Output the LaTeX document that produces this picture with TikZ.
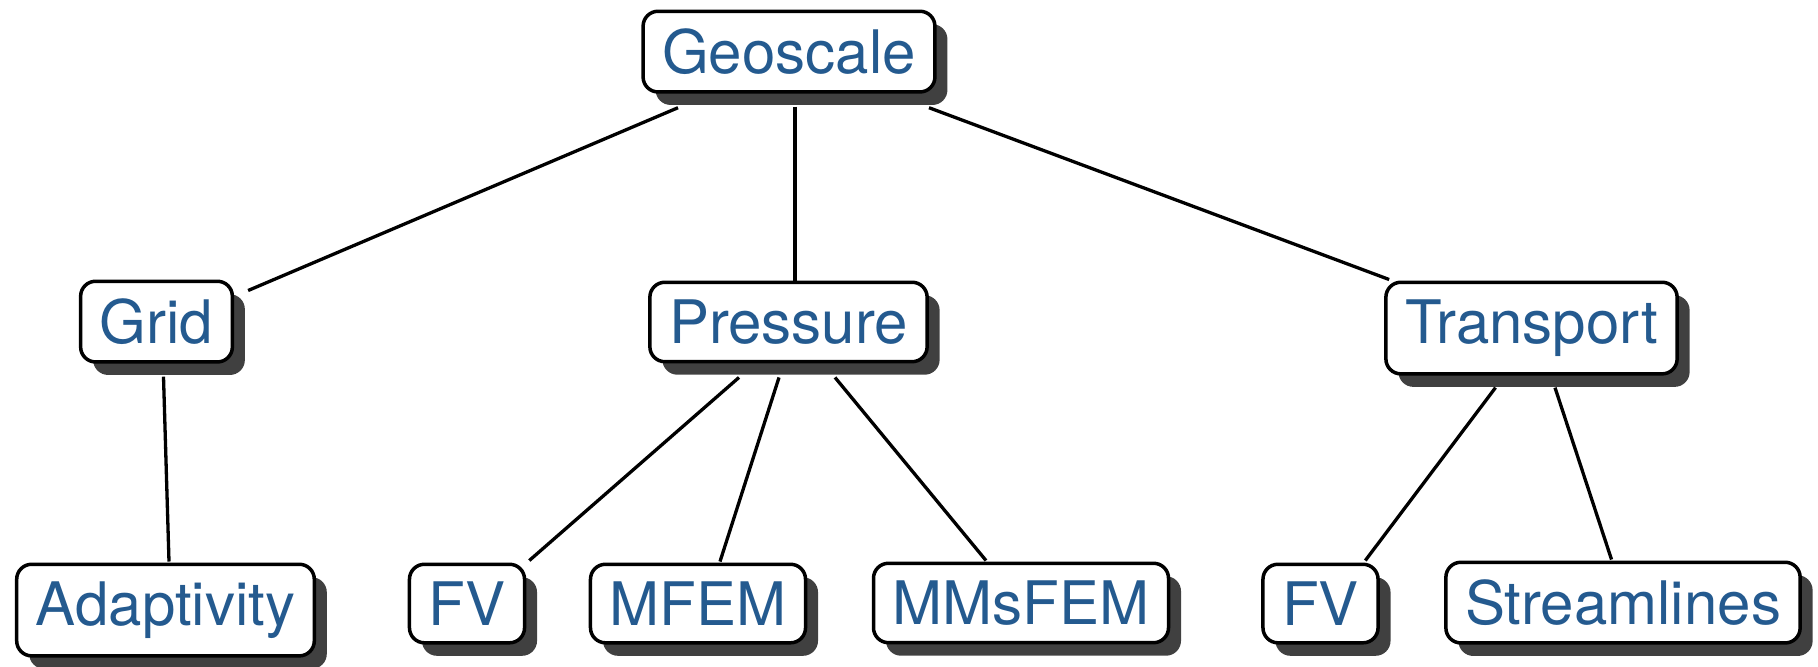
\documentclass[tikz,border=0pt]{standalone}
\usepackage{fontspec}
\setmainfont{TeX Gyre Heros}
\usetikzlibrary{shadows,calc}
\definecolor{txtblue}{RGB}{36,90,143}
\definecolor{shadowgray}{RGB}{64,64,64}
\begin{document}
\begin{tikzpicture}[x=0.5pt,y=-0.5pt,
  box/.style={draw=black, line width=1.75pt, fill=white, rounded corners=7.5pt,
    text=txtblue, font=\fontsize{30}{36}\selectfont,
    inner xsep=9.6pt, inner ysep=8.7pt, anchor=north,
    drop shadow={shadow xshift=6.25pt, shadow yshift=-6.5pt, fill=shadowgray, opacity=1}},
  conn/.style={draw=black, line width=1.65pt}]
\useasboundingbox (0,0) rectangle (1818,666);
\node[box] (geo) at (789,9.5) {Geoscale};
\node[box] (grid) at (156.5,279.5) {Grid};
\node[box] (pres) at (788.5,280.5) {Pressure};
\node[box] (trans) at (1531.5,280.5) {Transport};
\node[box] (adap) at (165.5,562.5) {Adaptivity};
\node[box] (fva) at (467,562.5) {FV};
\node[box] (mfem) at (698,562.5) {MFEM};
\node[box] (mms) at (1021,561.5) {MMsFEM};
\node[box] (fvb) at (1320.5,562.5) {FV};
\node[box] (stream) at (1623,560.5) {Streamlines};
\draw[conn] ($(geo.south)+(-111,14)$) -- ($(grid.north east)+(14,11)$);
\draw[conn] ($(geo.south)+(6,13)$) -- ($(pres.north)+(6.5,0)$);
\draw[conn] ($(geo.south)+(140,14)$) -- ($(trans.north west)+(5,-1)$);
\draw[conn] ($(grid.south)+(7,13)$) -- ($(adap.north)+(3.5,-1)$);
\draw[conn] ($(pres.south)+(-49.5,14)$) -- ($(fva.north east)+(3,-2)$);
\draw[conn] ($(pres.south)+(-9.5,14)$) -- ($(mfem.north)+(22,-1)$);
\draw[conn] ($(pres.south)+(46.5,14)$) -- ($(mms.north)+(-35,-1)$);
\draw[conn] ($(trans.south)+(-36,12)$) -- ($(fvb.north east)+(-14.5,-2)$);
\draw[conn] ($(trans.south)+(23.5,12)$) -- ($(stream.north)+(-11.5,-1)$);
\end{tikzpicture}
\end{document}
